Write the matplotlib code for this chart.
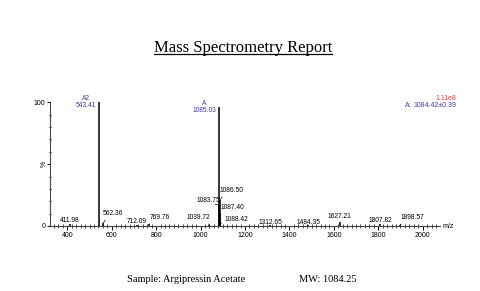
import matplotlib
matplotlib.use("Agg")
import matplotlib.pyplot as plt
import numpy as np

# ---- data ----
mz = [411.98, 543.41, 562.36, 712.09, 769.76, 1039.72, 1083.75, 1085.03,
      1086.50, 1087.40, 1088.42, 1312.65, 1484.35, 1627.21, 1807.82, 1898.57]
intensity = [1.5, 100, 2.5, 0.8, 1.5, 1.0, 17, 96, 21, 10, 2, 0.7, 0.7, 3.5, 2.0, 1.0]
peak_names = {543.41: "A2", 1085.03: "A"}
x_ticks = [400, 600, 800, 1000, 1200, 1400, 1600, 1800, 2000]
title = "Mass Spectrometry Report"
sample = "Sample: Argipressin Acetate"
mw = "MW: 1084.25"
scale_text = "1.11e8"
mass_label = "A:"
mass_text = "1084.42±0.39"

# label offsets (pixels, label centre relative to peak top) for minor peaks
offsets = {
    411.98: (0, 4), 562.36: (10, 9), 712.09: (0, 3.3), 769.76: (10, 6.5),
    1039.72: (-11, 7), 1083.75: (-11, 4), 1086.50: (11.5, 9.3), 1087.40: (12.5, 6.6),
    1088.42: (16, 3.8), 1312.65: (0, 3), 1484.35: (0, 3), 1627.21: (0, 4.7),
    1807.82: (0, 3.5), 1898.57: (12, 7),
}

W, H = 480, 291
fig = plt.figure(figsize=(W / 100, H / 100), dpi=100)
fig.patch.set_facecolor("white")

def fx(px):
    return px / W

def fy(py):
    return 1 - py / H

ax = fig.add_axes([fx(50), fy(226), fx(440) - fx(50), fy(102.3) - fy(226)])
ax.set_xlim(322, 2078)
ax.set_ylim(0, 100)
for s in ["top", "right"]:
    ax.spines[s].set_visible(False)
for s in ["left", "bottom"]:
    ax.spines[s].set_linewidth(0.8)
    ax.spines[s].set_color("#444444")

sans = "Liberation Sans"
ax.vlines(mz, 0, intensity, colors="black", linewidth=1.1)

ax.set_xticks(x_ticks)
ax.set_xticklabels([str(t) for t in x_ticks], fontsize=5, family=sans)
ax.set_xticks(np.arange(340, 2080, 20), minor=True)
ax.tick_params(axis="x", which="major", direction="out", length=3, width=0.7, pad=1)
ax.tick_params(axis="x", which="minor", direction="inout", length=2.5, width=0.5)
ax.set_yticks([0, 50, 100])
ax.set_yticklabels(["0", "", "100"], fontsize=5, family=sans)
ax.set_yticks(np.arange(10, 100, 10), minor=True)
ax.tick_params(axis="y", which="major", direction="out", length=2.5, width=0.7, pad=1)
ax.tick_params(axis="y", which="minor", direction="inout", length=2, width=0.6)
ax.text(-0.014, 0.5, "%", transform=ax.transAxes, fontsize=5, family=sans,
        rotation=90, ha="center", va="center")

blue = "#3d3da8"
for m, h in zip(mz, intensity):
    if m in peak_names:
        ax.annotate(peak_names[m] + "\n" + f"{m:.2f}", xy=(m, h), xytext=(-3, 0),
                    textcoords="offset pixels", ha="right", va="center",
                    multialignment="center",
                    fontsize=4.8, family=sans, color=blue, linespacing=1.05,
                    annotation_clip=False)
        continue
    dx, dy = offsets[m]
    arrow = None
    if dx != 0:
        rel = (0.2, 0) if dx > 0 else (0.8, 0)
        arrow = dict(arrowstyle="-", lw=0.5, color="black",
                     shrinkA=0, shrinkB=0, relpos=rel)
    ax.annotate(f"{m:.2f}", xy=(m, h), xytext=(dx, dy), textcoords="offset pixels",
                ha="center", va="center", fontsize=4.8, family=sans, color="black",
                arrowprops=arrow, annotation_clip=False)

fig.text(fx(456), fy(99), scale_text, color="#ee3333", fontsize=5, family=sans,
         ha="right", va="center")
fig.text(fx(405), fy(105), mass_label, color=blue, fontsize=5, family=sans,
         ha="left", va="center")
fig.text(fx(456), fy(105), mass_text, color=blue, fontsize=5, family=sans,
         ha="right", va="center")
fig.text(fx(443), fy(227), "m/z", fontsize=5, family=sans, ha="left", va="center")

serif = "Liberation Serif"
t = fig.text(fx(243), fy(52.3), title, fontsize=12, family=serif,
             ha="center", va="baseline")
fig.canvas.draw()
bb = t.get_window_extent()
fig.add_artist(plt.Line2D([bb.x0 / W, bb.x1 / W], [fy(54), fy(54)],
                          color="black", linewidth=0.9, transform=fig.transFigure))

fig.text(fx(127), fy(280), sample, fontsize=7.5, family=serif, ha="left", va="center")
fig.text(fx(299), fy(280), mw, fontsize=7.5, family=serif, ha="left", va="center")

fig.savefig("out.png", dpi=100, facecolor="white")
